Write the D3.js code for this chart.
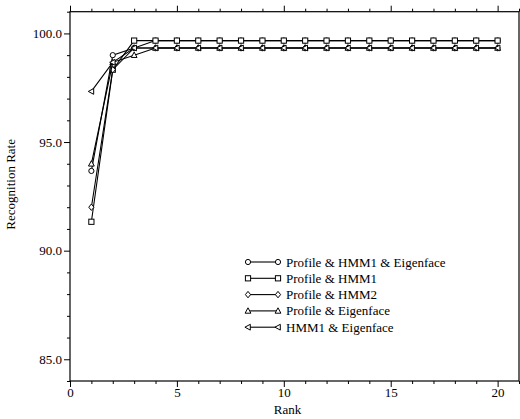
<!DOCTYPE html>
<html><head><meta charset="utf-8">
<script src="https://cdn.jsdelivr.net/npm/d3@7"></script>
<style>body{margin:0;background:#fff}svg{display:block}text{font-family:"Liberation Serif","Times New Roman",serif;fill:#000}</style>
</head><body>
<svg id="c" width="520" height="419"></svg>
<script>
const ranks = d3.range(1, 21);
const seriesNames = ["Profile & HMM1 & Eigenface","Profile & HMM1","Profile & HMM2","Profile & Eigenface","HMM1 & Eigenface"];
const markers = ["circle","square","diamond","triangle","triLeft"];
const sPHE = [93.67,99.0,99.33,99.67,99.67,99.67,99.67,99.67,99.67,99.67,99.67,99.67,99.67,99.67,99.67,99.67,99.67,99.67,99.67,99.67];
const sPH1 = [91.33,98.33,99.67,99.67,99.67,99.67,99.67,99.67,99.67,99.67,99.67,99.67,99.67,99.67,99.67,99.67,99.67,99.67,99.67,99.67];
const sPH2 = [92.0,98.33,99.33,99.33,99.33,99.33,99.33,99.33,99.33,99.33,99.33,99.33,99.33,99.33,99.33,99.33,99.33,99.33,99.33,99.33];
const sPE  = [94.0,98.67,99.0,99.33,99.33,99.33,99.33,99.33,99.33,99.33,99.33,99.33,99.33,99.33,99.33,99.33,99.33,99.33,99.33,99.33];
const sH1E = [97.33,98.67,99.33,99.33,99.33,99.33,99.33,99.33,99.33,99.33,99.33,99.33,99.33,99.33,99.33,99.33,99.33,99.33,99.33,99.33];
const seriesValues = [sPHE,sPH1,sPH2,sPE,sH1E];
const xTicks = [0,5,10,15,20];
const yTicks = [85,90,95,100];

const L=70,R=519,T=11.7,B=381;
const x=d3.scaleLinear().domain([0,21]).range([L,R]);
const y=d3.scaleLinear().domain([84,101]).range([B,T]);
const svg=d3.select("#c");

// frame
svg.append("rect").attr("x",L).attr("y",T).attr("width",R-L).attr("height",B-T)
  .attr("fill","none").attr("stroke","#000").attr("stroke-width",1.2);

const minorX=d3.range(0,22);
const minorY=d3.range(84,102);
function fmt(v){return v.toFixed(1);}
// bottom axis
const bx=svg.append("g").attr("transform",`translate(0,${B})`)
  .call(d3.axisBottom(x).tickValues(xTicks).tickFormat(d3.format("d")).tickSize(6).tickPadding(1));
bx.selectAll("text").attr("font-size",13).style("font-family","'Liberation Serif',serif");
svg.append("g").attr("transform",`translate(0,${B})`)
  .call(d3.axisBottom(x).tickValues(minorX.filter(v=>v%5)).tickFormat("").tickSize(3));
// top axis
svg.append("g").attr("transform",`translate(0,${T})`)
  .call(d3.axisTop(x).tickValues(xTicks).tickFormat("").tickSize(6));
svg.append("g").attr("transform",`translate(0,${T})`)
  .call(d3.axisTop(x).tickValues(minorX.filter(v=>v%5)).tickFormat("").tickSize(3));
// left axis
const ly=svg.append("g").attr("transform",`translate(${L},0)`)
  .call(d3.axisLeft(y).tickValues(yTicks).tickFormat(fmt).tickSize(6).tickPadding(2));
ly.selectAll("text").attr("font-size",13).style("font-family","'Liberation Serif',serif");
svg.append("g").attr("transform",`translate(${L},0)`)
  .call(d3.axisLeft(y).tickValues(minorY.filter(v=>v%5)).tickFormat("").tickSize(3));
svg.selectAll(".domain").remove();
svg.selectAll(".tick line").attr("stroke","#000").attr("stroke-width",1);

svg.append("text").attr("x",(L+R)/2-7).attr("y",414).attr("text-anchor","middle").attr("font-size",13).text("Rank");
svg.append("text").attr("transform",`translate(15,${(T+B)/2-12}) rotate(-90)`).attr("text-anchor","middle").attr("font-size",13).text("Recognition Rate");

function marker(g,type,cx,cy){
  const s=2.6;
  let el;
  if(type==="circle") el=g.append("circle").attr("cx",cx).attr("cy",cy).attr("r",s);
  else if(type==="square") el=g.append("rect").attr("x",cx-s).attr("y",cy-s).attr("width",2*s).attr("height",2*s);
  else if(type==="diamond") el=g.append("path").attr("d",`M${cx},${cy-s-0.6}L${cx+s},${cy}L${cx},${cy+s+0.6}L${cx-s},${cy}Z`);
  else if(type==="triangle") el=g.append("path").attr("d",`M${cx},${cy-s-0.5}L${cx+s+0.3},${cy+s-0.3}L${cx-s-0.3},${cy+s-0.3}Z`);
  else el=g.append("path").attr("d",`M${cx-s-0.5},${cy}L${cx+s-0.3},${cy-s-0.3}L${cx+s-0.3},${cy+s+0.3}Z`);
  el.attr("fill","#fff").attr("stroke","#000").attr("stroke-width",1);
}

const line=d3.line().x((d,i)=>x(ranks[i])).y(d=>y(d));
seriesValues.forEach((vals,k)=>{
  const g=svg.append("g");
  g.append("path").attr("d",line(vals)).attr("fill","none").attr("stroke","#000").attr("stroke-width",1.1);
  vals.forEach((v,i)=>marker(g,markers[k],x(ranks[i]),y(v)));
});

// legend
const lg=svg.append("g");
seriesNames.forEach((n,k)=>{
  const yy=262+k*16.3;
  lg.append("line").attr("x1",248).attr("x2",278).attr("y1",yy).attr("y2",yy).attr("stroke","#000").attr("stroke-width",1.1);
  marker(lg,markers[k],248,yy);
  marker(lg,markers[k],278,yy);
  lg.append("text").attr("x",286).attr("y",yy+4.5).attr("font-size",13).text(n);
});
</script>
</body></html>
